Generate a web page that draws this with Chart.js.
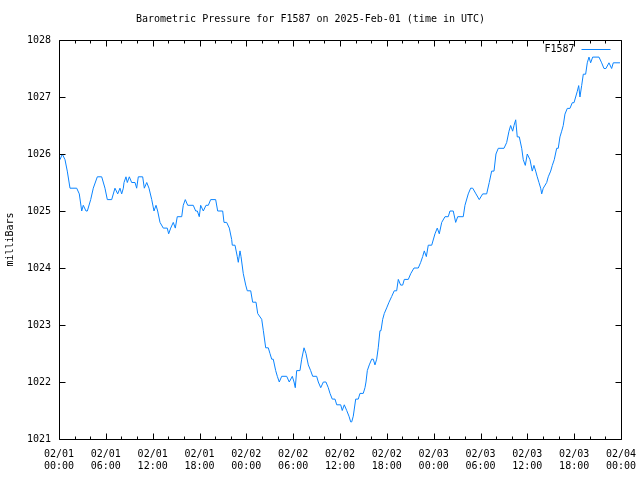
<!DOCTYPE html>
<html>
<head>
<meta charset="utf-8">
<script src="https://cdn.jsdelivr.net/npm/chart.js@4.4.1/dist/chart.umd.min.js"></script>
<style>
  html, body { margin: 0; padding: 0; background: #fff; }
  #wrap { width: 640px; height: 480px; }
</style>
</head>
<body>
<div id="wrap"><canvas id="grafica" width="640" height="480"></canvas></div>
<script>
// Presión barométrica F1587, 3 días (hora UTC desde 02/01 00:00)
const SERIE = 'F1587';
const horas = [
  0.13, 0.42, 0.77, 1.06, 1.41, 2.27, 2.60, 2.91, 3.11, 3.46, 3.63, 4.06, 4.39, 4.91, 5.47, 5.89,
  6.19, 6.75, 7.17, 7.52, 7.81, 8.03, 8.24, 8.33, 8.58, 8.75, 9.01, 9.31, 9.74, 9.95, 10.16, 10.72,
  10.93, 11.24, 11.53, 11.88, 12.17, 12.43, 12.64, 12.94, 13.36, 13.87, 14.05, 14.31, 14.64, 14.90,
  15.15, 15.72, 15.92, 16.18, 16.49, 17.20, 17.51, 17.72, 17.97, 18.15, 18.49, 18.83, 19.13, 19.43,
  20.07, 20.33, 20.97, 21.14, 21.48, 21.82, 22.12, 22.20, 22.55, 22.84, 22.97, 23.19, 23.32, 23.61,
  23.92, 24.12, 24.56, 24.81, 25.24, 25.46, 25.97, 26.18, 26.48, 26.81, 27.03, 27.25, 27.45, 27.76,
  27.97, 28.22, 28.53, 29.17, 29.50, 29.89, 30.11, 30.27, 30.45, 30.87, 31.09, 31.39, 31.64, 31.94,
  32.24, 32.50, 33.01, 33.22, 33.53, 33.87, 34.20, 34.50, 34.72, 35.01, 35.36, 35.58, 36.09, 36.29,
  36.55, 36.86, 37.15, 37.37, 37.50, 37.70, 38.01, 38.34, 38.56, 38.98, 39.20, 39.33, 39.50, 39.75,
  40.06, 40.26, 40.48, 40.70, 40.90, 41.12, 41.25, 41.47, 41.67, 41.98, 42.28, 42.62, 42.95, 43.26,
  43.47, 43.77, 44.03, 44.24, 44.75, 45.06, 45.48, 46.03, 46.34, 46.59, 46.80, 47.06, 47.31, 47.75,
  48.17, 48.46, 48.72, 49.03, 49.45, 49.87, 50.09, 50.51, 50.82, 51.08, 51.79, 52.01, 52.43, 52.74,
  53.00, 53.42, 53.84, 54.28, 54.79, 55.12, 55.43, 55.73, 55.98, 56.28, 57.01, 57.35, 57.65, 57.86,
  58.12, 58.29, 58.51, 58.71, 58.97, 59.28, 59.48, 59.74, 59.99, 60.34, 60.63, 60.85, 61.07, 61.27,
  61.49, 61.71, 61.84, 62.04, 62.48, 62.68, 62.99, 63.20, 63.45, 63.76, 63.96, 64.18, 64.40, 64.60,
  64.82, 65.12, 65.46, 65.76, 65.98, 66.19, 66.40, 66.58, 66.74, 66.96, 67.17, 67.47, 67.68, 67.90,
  68.11, 68.37, 68.67, 69.18, 69.52, 69.82, 70.07, 70.46, 70.80, 71.01, 71.87
];
const presion = [
  1025.9, 1026.0, 1025.9, 1025.7, 1025.4, 1025.4, 1025.3, 1025.0, 1025.1, 1025.0, 1025.0, 1025.2, 1025.4, 1025.6, 1025.6, 1025.4,
  1025.2, 1025.2, 1025.4, 1025.3, 1025.4, 1025.3, 1025.4, 1025.5, 1025.6, 1025.5, 1025.6, 1025.5, 1025.5, 1025.4, 1025.6, 1025.6,
  1025.4, 1025.5, 1025.4, 1025.2, 1025.0, 1025.1, 1025.0, 1024.8, 1024.7, 1024.7, 1024.6, 1024.7, 1024.8, 1024.7,
  1024.9, 1024.9, 1025.1, 1025.2, 1025.1, 1025.1, 1025.0, 1025.0, 1024.9, 1025.1, 1025.0, 1025.1, 1025.1, 1025.2,
  1025.2, 1025.0, 1025.0, 1024.8, 1024.8, 1024.7, 1024.5, 1024.4, 1024.4, 1024.2, 1024.1, 1024.3, 1024.2, 1023.9,
  1023.7, 1023.6, 1023.6, 1023.4, 1023.4, 1023.2, 1023.1, 1022.9, 1022.6, 1022.6, 1022.5, 1022.4, 1022.4, 1022.2,
  1022.1, 1022.0, 1022.1, 1022.1, 1022.0, 1022.1, 1022.0, 1021.9, 1022.2, 1022.2, 1022.4, 1022.6, 1022.5, 1022.3,
  1022.2, 1022.1, 1022.1, 1022.0, 1021.9, 1022.0, 1022.0, 1021.9, 1021.8, 1021.7, 1021.7, 1021.6, 1021.6, 1021.5,
  1021.6, 1021.5, 1021.4, 1021.3, 1021.3, 1021.4, 1021.7, 1021.7, 1021.8, 1021.8, 1021.9, 1022.0, 1022.2, 1022.3,
  1022.4, 1022.4, 1022.3, 1022.4, 1022.6, 1022.9, 1022.9, 1023.1, 1023.2, 1023.3, 1023.4, 1023.5, 1023.6, 1023.6,
  1023.8, 1023.7, 1023.7, 1023.8, 1023.8, 1023.9, 1024.0, 1024.0, 1024.1, 1024.2, 1024.3, 1024.2, 1024.4, 1024.4,
  1024.6, 1024.7, 1024.6, 1024.8, 1024.9, 1024.9, 1025.0, 1025.0, 1024.8, 1024.9, 1024.9, 1025.1, 1025.3, 1025.4,
  1025.4, 1025.3, 1025.2, 1025.3, 1025.3, 1025.5, 1025.7, 1025.7, 1026.0, 1026.1, 1026.1, 1026.2, 1026.4, 1026.5,
  1026.4, 1026.5, 1026.6, 1026.3, 1026.3, 1026.1, 1025.9, 1025.8, 1026.0, 1025.9, 1025.7, 1025.8, 1025.7, 1025.6,
  1025.5, 1025.4, 1025.3, 1025.4, 1025.5, 1025.6, 1025.7, 1025.8, 1025.9, 1026.1, 1026.1, 1026.3, 1026.4, 1026.5,
  1026.7, 1026.8, 1026.8, 1026.9, 1026.9, 1027.0, 1027.1, 1027.2, 1027.0, 1027.2, 1027.4, 1027.4, 1027.6, 1027.7,
  1027.6, 1027.7, 1027.7, 1027.7, 1027.6, 1027.5, 1027.5, 1027.6, 1027.5, 1027.6, 1027.6
];
// etiquetas del eje x (una por cada 6 h)
const etiquetasDia  = ['02/01', '02/01', '02/01', '02/01', '02/02', '02/02', '02/02', '02/02', '02/03', '02/03', '02/03', '02/03', '02/04'];
const etiquetasHora = ['00:00', '06:00', '12:00', '18:00', '00:00', '06:00', '12:00', '18:00', '00:00', '06:00', '12:00', '18:00', '00:00'];

const FUENTE = "'DejaVu Sans Mono', 'Liberation Mono', monospace";
const COLOR_LINEA = '#0a84ff';

// Marco completo + marcas hacia dentro (estilo gnuplot), menores cada 2 h en x
const marcoGnuplot = {
  id: 'marcoGnuplot',
  afterDraw(chart) {
    const { ctx, chartArea: a, scales: { x, y } } = chart;
    const L = Math.round(a.left) + 0.5, R = Math.round(a.right) + 0.5;
    const T = Math.round(a.top) + 0.5, B = Math.round(a.bottom) + 0.5;
    ctx.save();
    ctx.strokeStyle = '#000';
    ctx.lineWidth = 1;
    ctx.beginPath();
    ctx.rect(L, T, R - L, B - T);
    for (let v = x.min; v <= x.max; v += 2) {
      const px = Math.round(x.getPixelForValue(v)) + 0.5;
      const len = v % 6 === 0 ? 6 : 3;
      ctx.moveTo(px, B); ctx.lineTo(px, B - len);
      ctx.moveTo(px, T); ctx.lineTo(px, T + len);
    }
    y.ticks.forEach(t => {
      const py = Math.round(y.getPixelForValue(t.value)) + 0.5;
      ctx.moveTo(L, py); ctx.lineTo(L + 6, py);
      ctx.moveTo(R, py); ctx.lineTo(R - 6, py);
    });
    ctx.stroke();

    // leyenda dentro del área: texto y luego muestra de línea
    const ds = chart.data.datasets[0];
    ctx.font = '10px ' + FUENTE;
    ctx.fillStyle = '#000';
    ctx.textAlign = 'right';
    ctx.textBaseline = 'middle';
    ctx.fillText(ds.label, R - 47, T + 9);
    ctx.strokeStyle = ds.borderColor;
    ctx.beginPath();
    ctx.moveTo(R - 40, T + 9); ctx.lineTo(R - 11, T + 9);
    ctx.stroke();
    ctx.restore();
  }
};

new Chart(document.getElementById('grafica'), {
  type: 'line',
  data: {
    datasets: [{
      label: SERIE,
      data: horas.map((h, i) => ({ x: h, y: presion[i] })),
      borderColor: COLOR_LINEA,
      borderWidth: 1,
      pointRadius: 0,
      tension: 0,
      fill: false,
    }],
  },
  options: {
    responsive: false,
    animation: false,
    devicePixelRatio: 1,
    layout: { padding: { left: 0, right: 19, top: 0, bottom: 0 } },
    plugins: {
      legend: { display: false },
      tooltip: { enabled: false },
      title: {
        display: true,
        text: 'Barometric Pressure for F1587 on 2025-Feb-01 (time in UTC)',
        color: '#000',
        font: { family: FUENTE, size: 10, weight: 'normal', lineHeight: 1.2 },
        padding: { top: 13, bottom: 15 },
      },
    },
    scales: {
      x: {
        type: 'linear',
        min: 0,
        max: 72,
        border: { display: false },
        grid: { display: false, drawTicks: false, tickLength: 0 },
        ticks: {
          stepSize: 6,
          autoSkip: false,
          maxRotation: 0,
          padding: 9,
          color: '#000',
          font: { family: FUENTE, size: 10, lineHeight: 1.2 },
          callback: (v) => { const i = Math.round(v / 6); return [etiquetasDia[i], etiquetasHora[i]]; },
        },
        afterFit: (s) => { s.height = 41; s.paddingLeft = 0; s.paddingRight = 0; },
      },
      y: {
        min: 1021,
        max: 1028,
        border: { display: false },
        grid: { display: false, drawTicks: false, tickLength: 0 },
        ticks: { stepSize: 1, padding: 8, color: '#000', font: { family: FUENTE, size: 10 }, callback: (v) => String(v) },
        title: { display: true, text: 'milliBars', color: '#000', font: { family: FUENTE, size: 10 }, padding: { top: 4, bottom: 0 } },
        afterFit: (s) => { s.width = 59; s.paddingTop = 0; s.paddingBottom = 0; },
      },
    },
  },
  plugins: [marcoGnuplot],
});
</script>
</body>
</html>
